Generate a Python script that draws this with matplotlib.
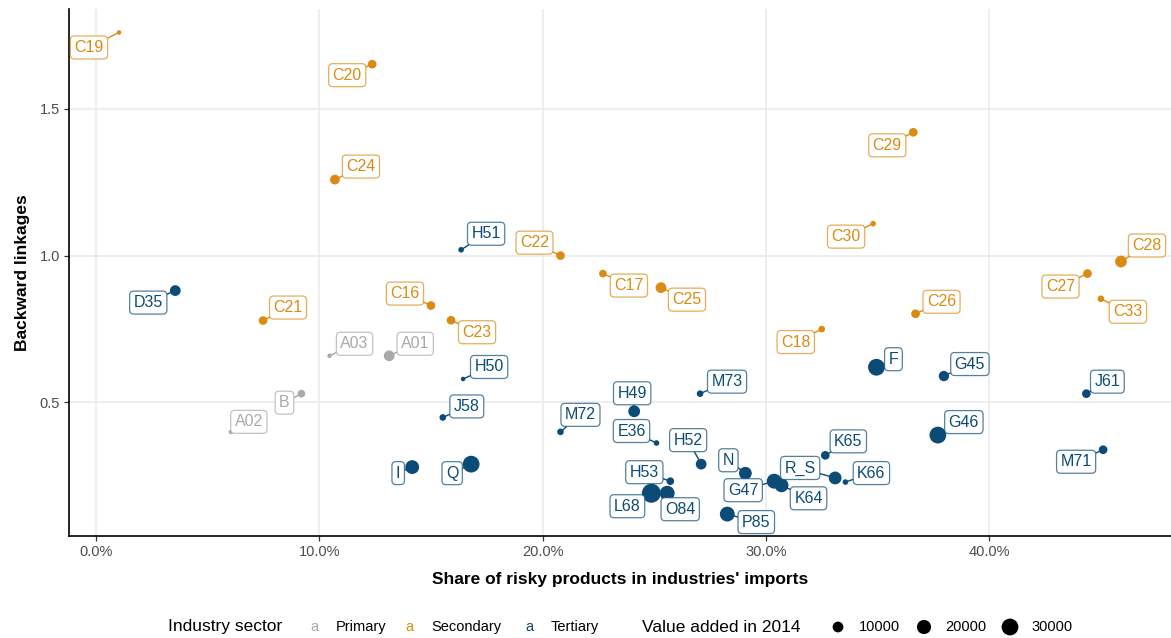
import matplotlib.pyplot as plt
import numpy as np
from matplotlib.colors import to_rgba
from matplotlib.ticker import FuncFormatter

plt.rcParams['font.family'] = ['Liberation Sans', 'DejaVu Sans']

# industries, sector, share of risky products in imports (%), backward linkages, value added 2014
industry = ['C19', 'C20', 'C24', 'C29', 'C30', 'H51', 'C22', 'C17', 'C25', 'C28',
            'C27', 'C33', 'D35', 'C21', 'C16', 'C23', 'C26', 'C18', 'A03', 'A01',
            'H50', 'F', 'G45', 'J61', 'B', 'M73', 'A02', 'J58', 'M72', 'H49',
            'E36', 'H52', 'N', 'G47', 'K64', 'K65', 'R_S', 'K66', 'H53', 'L68',
            'O84', 'P85', 'I', 'Q', 'G46', 'M71']
sector = ['Secondary', 'Secondary', 'Secondary', 'Secondary', 'Secondary', 'Tertiary',
          'Secondary', 'Secondary', 'Secondary', 'Secondary', 'Secondary', 'Secondary',
          'Tertiary', 'Secondary', 'Secondary', 'Secondary', 'Secondary', 'Secondary',
          'Primary', 'Primary', 'Tertiary', 'Tertiary', 'Tertiary', 'Tertiary',
          'Primary', 'Tertiary', 'Primary', 'Tertiary', 'Tertiary', 'Tertiary',
          'Tertiary', 'Tertiary', 'Tertiary', 'Tertiary', 'Tertiary', 'Tertiary',
          'Tertiary', 'Tertiary', 'Tertiary', 'Tertiary', 'Tertiary', 'Tertiary',
          'Tertiary', 'Tertiary', 'Tertiary', 'Tertiary']
risky_share = [1.03, 12.37, 10.70, 36.60, 34.80, 16.35, 20.80, 22.70, 25.30, 45.90,
               44.40, 45.00, 3.55, 7.48, 15.00, 15.90, 36.70, 32.50, 10.46, 13.13,
               16.44, 34.95, 37.97, 44.35, 9.20, 27.05, 6.04, 15.53, 20.80, 24.10,
               25.10, 27.10, 29.08, 30.37, 30.70, 32.66, 33.10, 33.56, 25.72, 24.87,
               25.58, 28.27, 14.16, 16.80, 37.70, 45.10]
backward = [1.760, 1.652, 1.259, 1.420, 1.109, 1.020, 1.000, 0.939, 0.891, 0.980,
            0.939, 0.853, 0.881, 0.779, 0.830, 0.780, 0.802, 0.750, 0.659, 0.659,
            0.580, 0.620, 0.590, 0.530, 0.530, 0.530, 0.400, 0.449, 0.400, 0.470,
            0.362, 0.290, 0.259, 0.232, 0.218, 0.320, 0.243, 0.229, 0.232, 0.191,
            0.191, 0.120, 0.280, 0.290, 0.389, 0.339]
value_added = [600, 5600, 7700, 5600, 1400, 1400, 5600, 3900, 10000, 12700,
               5600, 2500, 10000, 5600, 5600, 5600, 5600, 2500, 600, 10000,
               600, 30000, 9000, 5600, 3900, 2500, 600, 2500, 2500, 12700,
               1400, 10000, 15600, 22500, 18900, 5600, 15600, 1400, 3900, 40000,
               22500, 22500, 18900, 30000, 30000, 5600]

sectors = ['Primary', 'Secondary', 'Tertiary']
size_breaks = [10000, 20000, 30000]

colors = {'Primary': '#a9a9ad', 'Secondary': '#d98b12', 'Tertiary': '#0b4b76'}

# label offsets from each point, in pixels (dx right, dy up)
label_offset = {
    'C19': (-30, -15), 'C20': (-25, -11), 'C24': (26, 13), 'C29': (-26, -13),
    'C30': (-27, -13), 'H51': (25, 16), 'C22': (-26, 13), 'C17': (26, -12),
    'C25': (26, -12), 'C28': (26, 16), 'C27': (-27, -13), 'C33': (27, -13),
    'D35': (-27, -12), 'C21': (25, 13), 'C16': (-26, 12), 'C23': (26, -12),
    'C26': (26, 12), 'C18': (-26, -13), 'A03': (25, 12), 'A01': (26, 12),
    'H50': (26, 12), 'F': (17, 8), 'G45': (26, 12), 'J61': (21, 12),
    'B': (-17, -9), 'M73': (27, 12), 'A02': (18, 10), 'J58': (24, 11),
    'M72': (20, 17), 'H49': (-2, 18), 'E36': (-25, 12), 'H52': (-13, 24),
    'N': (-17, 13), 'G47': (-31, -9), 'K64': (27, -13), 'K65': (23, 14),
    'R_S': (-35, 10), 'K66': (26, 9), 'H53': (-26, 9), 'L68': (-24, -13),
    'O84': (13, -16), 'P85': (29, -8), 'I': (-14, -6), 'Q': (-19, -9),
    'G46': (26, 13), 'M71': (-27, -12),
}


def marker_area(v):
    # diameter in pixels grows with sqrt of value added; scatter wants points^2
    d = 2.5 + 16.5 * np.sqrt(np.asarray(v, dtype=float) / 40000)
    return (d * 0.72) ** 2


fig = plt.figure(figsize=(11.71, 6.38), dpi=100)
ax = fig.add_axes([0.0589, 0.1599, 0.9411, 0.8256])

x = np.array(risky_share) / 100
y = np.array(backward)
pt_colors = [colors[s] for s in sector]

ax.scatter(x, y, s=marker_area(value_added), c=pt_colors, linewidths=0, zorder=2)

for name, s, xi, yi in zip(industry, sector, x, y):
    dx, dy = label_offset[name]
    col = colors[s]
    ax.annotate(name, (xi, yi), xytext=(dx, dy), textcoords='offset pixels',
                ha='center', va='center', fontsize=11.5, color=col, zorder=3,
                bbox=dict(boxstyle='round,pad=0.25,rounding_size=0.25',
                          fc='white', ec=to_rgba(col, 0.7), lw=0.9),
                arrowprops=dict(arrowstyle='-', color=col, lw=1.0,
                                shrinkA=0, shrinkB=0))

ax.set_xlim(-0.0121, 0.4814)
ax.set_ylim(0.0454, 1.839)
ax.set_xticks([0, 0.1, 0.2, 0.3, 0.4])
ax.set_yticks([0.5, 1.0, 1.5])
ax.xaxis.set_major_formatter(FuncFormatter(lambda v, p: f'{v * 100:.1f}%'))
ax.yaxis.set_major_formatter(FuncFormatter(lambda v, p: f'{v:.1f}'))
ax.grid(True, color='#ebebeb', lw=1.2, zorder=0)
ax.set_axisbelow(True)
for side in ['top', 'right']:
    ax.spines[side].set_visible(False)
for side in ['left', 'bottom']:
    ax.spines[side].set_linewidth(1.2)
    ax.spines[side].set_color('black')
ax.tick_params(length=3.5, width=0.9, color='#333333', labelsize=10.5,
               labelcolor='#4d4d4d', pad=3)
ax.set_xlabel("Share of risky products in industries' imports", fontsize=12.5,
              fontweight='bold', labelpad=9)
ax.set_ylabel('Backward linkages', fontsize=12.5, fontweight='bold', labelpad=7)

# legend row drawn in figure pixel coordinates
lg = fig.add_axes([0, 0, 1, 1], zorder=-1)
lg.set_xlim(0, 1171)
lg.set_ylim(638, 0)
lg.axis('off')
ly = 627
lg.text(168, ly, 'Industry sector', fontsize=12.5, va='center', ha='left')
key_x = [314, 409, 529]
for kx, s in zip(key_x, sectors):
    lg.text(kx, ly, 'a', fontsize=10.5, color=colors[s], va='center', ha='center')
    lg.text(kx + 22, ly, s, fontsize=10.5, va='center', ha='left')
lg.text(642, ly, 'Value added in 2014', fontsize=12.5, va='center', ha='left')
dot_x = [838, 924, 1010]
lg.scatter(dot_x, [ly] * 3, s=marker_area(size_breaks), c='black', linewidths=0)
for dx_, b in zip(dot_x, size_breaks):
    lg.text(dx_ + 21, ly, str(b), fontsize=10.5, va='center', ha='left')

fig.savefig('out.png', dpi=100)
